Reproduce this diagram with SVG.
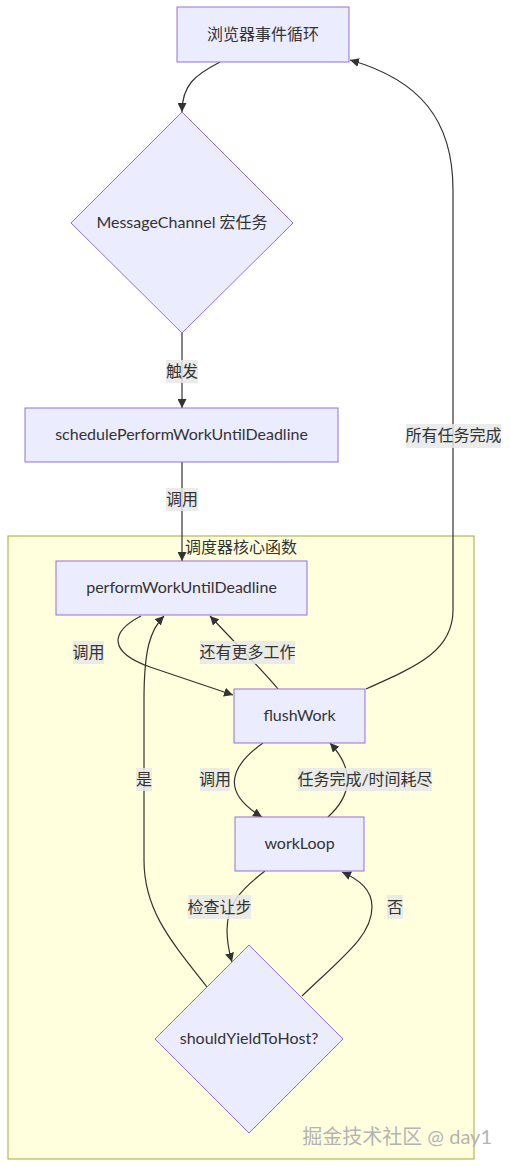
<svg xmlns="http://www.w3.org/2000/svg" width="510" height="1167" viewBox="0 0 510 1167">
<style>
text{font-family:"Lato","Noto Sans CJK SC",sans-serif;font-size:16px;fill:#333;text-anchor:middle}
.node{fill:#ECECFF;stroke:#9370DB;stroke-width:1}
.edge{fill:none;stroke:#333;stroke-width:1.2}
.lbl{fill:#e8e8e8;opacity:0.85}
.cluster{fill:#ffffde;stroke:#aaaa33;stroke-width:1}
.wm{font-size:20px;fill:#b4b4b4;text-anchor:end}
</style>
<defs>
<marker id="arr" viewBox="0 0 10 10" refX="10" refY="5" markerWidth="9" markerHeight="9" markerUnits="userSpaceOnUse" orient="auto">
<path d="M0,0 L10,5 L0,10 z" fill="#333"/>
</marker>
</defs>
<rect width="510" height="1167" fill="#fff"/>
<g id="cluster-core">
<rect class="cluster" x="8" y="536" width="466" height="623"/>
<text x="241" y="553">调度器核心函数</text>
</g>
<g id="connectors">
<path class="edge" d="M220,62 C195,75 182,85 182,112" marker-end="url(#arr)"/>
<path class="edge" d="M182,333 L182,408" marker-end="url(#arr)"/>
<path class="edge" d="M182,462 L182,561" marker-end="url(#arr)"/>
<path class="edge" d="M141,616 C110,632 108,652 150,667 L233,695" marker-end="url(#arr)"/>
<path class="edge" d="M278,689 C268,676 240,648 210,616" marker-end="url(#arr)"/>
<path class="edge" d="M366,689 C420,665 453,650 453,610 L453,190 C453,120 420,80 350,60" marker-end="url(#arr)"/>
<path class="edge" d="M263,743 C225,770 225,795 262,817" marker-end="url(#arr)"/>
<path class="edge" d="M328,817 C352,795 355,770 330,743" marker-end="url(#arr)"/>
<path class="edge" d="M265,871 C240,890 227,905 227,930 C227,945 230,955 232,962" marker-end="url(#arr)"/>
<path class="edge" d="M302,996 C345,955 372,935 372,907 C372,890 360,880 342,872" marker-end="url(#arr)"/>
<path class="edge" d="M207,987 C170,940 144,910 144,860 L144,700 C144,650 150,630 164,616" marker-end="url(#arr)"/>
<rect class="lbl" x="166" y="360" width="32" height="23"/><text x="182" y="377">触发</text>
<rect class="lbl" x="166" y="488" width="32" height="23"/><text x="182" y="505">调用</text>
<rect class="lbl" x="73" y="641" width="31" height="23"/><text x="88.5" y="658">调用</text>
<rect class="lbl" x="200" y="641" width="95" height="23"/><text x="247.5" y="658">还有更多工作</text>
<rect class="lbl" x="406" y="424" width="95" height="24"/><text x="453.5" y="441">所有任务完成</text>
<rect class="lbl" x="200" y="768" width="30" height="23"/><text x="215" y="785">调用</text>
<rect class="lbl" x="298" y="768" width="134" height="23"/><text x="365" y="785">任务完成/时间耗尽</text>
<rect class="lbl" x="188" y="895" width="63" height="24"/><text x="219.5" y="913">检查让步</text>
<rect class="lbl" x="387" y="895" width="16" height="24"/><text x="395" y="913">否</text>
<rect class="lbl" x="136" y="768" width="16" height="23"/><text x="144" y="785">是</text>
</g>
<g id="node-browser">
<rect class="node" x="177" y="7" width="172" height="55"/>
<text x="263" y="40">浏览器事件循环</text>
</g>
<g id="node-messagechannel">
<polygon class="node" points="182,112 293,223 182,333 71,223"/>
<text x="182" y="228">MessageChannel 宏任务</text>
</g>
<g id="node-schedule">
<rect class="node" x="25" y="408" width="313" height="54"/>
<text x="181.5" y="440">schedulePerformWorkUntilDeadline</text>
</g>
<g id="node-perform">
<rect class="node" x="56" y="561" width="251" height="54"/>
<text x="181.5" y="593">performWorkUntilDeadline</text>
</g>
<g id="node-flushwork">
<rect class="node" x="234" y="689" width="131" height="54"/>
<text x="299.5" y="721">flushWork</text>
</g>
<g id="node-workloop">
<rect class="node" x="235" y="817" width="129" height="54"/>
<text x="299.5" y="849">workLoop</text>
</g>
<g id="node-shouldyield">
<polygon class="node" points="249,945 343,1039 249,1133 155,1039"/>
<text x="249" y="1044">shouldYieldToHost?</text>
</g>
<text class="wm" x="492" y="1144">掘金技术社区 @ day1</text>
</svg>
